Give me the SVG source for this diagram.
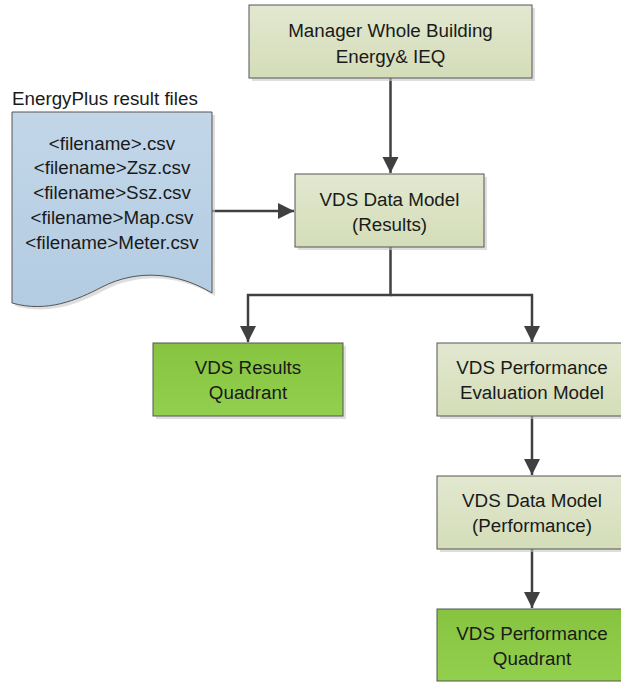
<svg xmlns="http://www.w3.org/2000/svg" width="621" height="682" viewBox="0 0 621 682">
<style>
.t{font-family:"Liberation Sans",Arial,sans-serif;font-size:18.8px;fill:#1a1a1a;text-anchor:middle}
.box{stroke:#555;stroke-width:1}
.pale{fill:url(#gPale)}
.green{fill:url(#gGreen)}
.sh{fill:#c8c8c8;opacity:0.6}
.c{fill:none;stroke:#404040;stroke-width:2.5}
</style>
<defs>
<linearGradient id="gPale" x1="0" y1="0" x2="0" y2="1"><stop offset="0" stop-color="#e2e8d0"/><stop offset="1" stop-color="#d4ddb8"/></linearGradient>
<linearGradient id="gGreen" x1="0" y1="0" x2="0" y2="1"><stop offset="0" stop-color="#86c440"/><stop offset="1" stop-color="#92cf4e"/></linearGradient>
<linearGradient id="gBlue" x1="0" y1="0" x2="0" y2="1"><stop offset="0" stop-color="#c2d6e8"/><stop offset="1" stop-color="#b3cce2"/></linearGradient>
<marker id="ah" viewBox="0 0 10 10" refX="10" refY="5" markerWidth="6.4" markerHeight="6.8" orient="auto" markerUnits="strokeWidth"><path d="M0,0 L10,5 L0,10 Z" fill="#404040"/></marker>
</defs>

<g id="connectors">
<path class="c" d="M390.5,78 V173" marker-end="url(#ah)"/>
<path class="c" d="M212,211 H294" marker-end="url(#ah)"/>
<path class="c" d="M390.5,247 V295 H248 V342" marker-end="url(#ah)"/>
<path class="c" d="M390.5,295 H532 V342" marker-end="url(#ah)"/>
<path class="c" d="M532,416 V475" marker-end="url(#ah)"/>
<path class="c" d="M532,549 V608" marker-end="url(#ah)"/>
</g>

<g id="manager">
<rect class="sh" x="252" y="8" width="283" height="73"/>
<rect class="box pale" x="249" y="5" width="283" height="73"/>
<text class="t" x="390.5" y="37">Manager Whole Building</text>
<text class="t" x="390.5" y="63">Energy&amp; IEQ</text>
</g>

<g id="energyplus">
<text style="font-family:'Liberation Sans',Arial,sans-serif;font-size:18.8px;fill:#1a1a1a" x="12" y="105">EnergyPlus result files</text>
<path fill="#c8c8c8" opacity="0.6" d="M15,115 H215 V296 C180,275 140,272 105,290 C80,303 50,316 15,306 Z"/>
<path fill="url(#gBlue)" stroke="#555" stroke-width="1" d="M12,112 H212 V293 C177,272 137,269 102,287 C77,300 47,313 12,303 Z"/>
<text class="t" x="112" y="150">&lt;filename&gt;.csv</text>
<text class="t" x="112" y="174">&lt;filename&gt;Zsz.csv</text>
<text class="t" x="112" y="199">&lt;filename&gt;Ssz.csv</text>
<text class="t" x="112" y="224">&lt;filename&gt;Map.csv</text>
<text class="t" x="112" y="249">&lt;filename&gt;Meter.csv</text>
</g>

<g id="dm-results">
<rect class="sh" x="298" y="177" width="189" height="73"/>
<rect class="box pale" x="295" y="174" width="189" height="73"/>
<text class="t" x="389.5" y="206">VDS Data Model</text>
<text class="t" x="389.5" y="231">(Results)</text>
</g>

<g id="results-quadrant">
<rect class="sh" x="156" y="346" width="190" height="73"/>
<rect class="box green" x="153" y="343" width="190" height="73"/>
<text class="t" x="248" y="374">VDS Results</text>
<text class="t" x="248" y="399">Quadrant</text>
</g>

<g id="perf-eval">
<rect class="sh" x="440" y="346" width="190" height="73"/>
<rect class="box pale" x="437" y="343" width="190" height="73"/>
<text class="t" x="532" y="374">VDS Performance</text>
<text class="t" x="532" y="399">Evaluation Model</text>
</g>

<g id="dm-performance">
<rect class="sh" x="440" y="479" width="190" height="73"/>
<rect class="box pale" x="437" y="476" width="190" height="73"/>
<text class="t" x="532" y="507">VDS Data Model</text>
<text class="t" x="532" y="532">(Performance)</text>
</g>

<g id="perf-quadrant">
<rect class="box green" x="437" y="609" width="190" height="72"/>
<text class="t" x="532" y="640">VDS Performance</text>
<text class="t" x="532" y="665">Quadrant</text>
</g>
</svg>
